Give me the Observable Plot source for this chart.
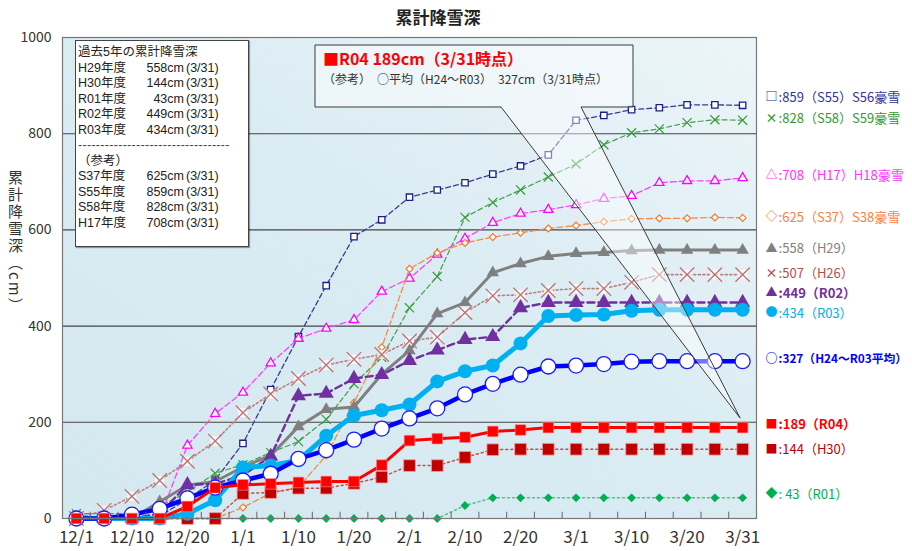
<!DOCTYPE html>
<html><head><meta charset="utf-8">
<script src="https://cdn.jsdelivr.net/npm/d3@7"></script>
<script src="https://cdn.jsdelivr.net/npm/@observablehq/plot@0.6"></script>
<style>
body{margin:0;background:#fff;font-family:"Noto Sans CJK JP","Noto Sans",sans-serif;}
#wrap{position:relative;width:912px;height:551px;overflow:hidden;}
#title{position:relative;height:30px;width:876px;text-align:center;font-weight:bold;font-size:17px;line-height:34px;color:#222;}
#ylab{position:absolute;left:5px;top:170px;writing-mode:vertical-rl;font-size:15px;letter-spacing:2px;color:#333;line-height:20px;}
#legend{position:absolute;left:75px;top:40px;width:174px;height:207px;background:#fff;border:1px solid #444;box-shadow:1px 1px 1px rgba(0,0,0,0.35);font-family:"Liberation Sans","Noto Sans CJK JP",sans-serif;font-size:12.5px;color:#222;padding:4px 0 0 2px;box-sizing:border-box;white-space:nowrap;}
#legend .row{height:15.5px;line-height:15.5px;overflow:visible;}
#legend .row span{display:inline-block;height:15.5px;line-height:15.5px;vertical-align:top;}
#legend .n{width:64px;}
#legend .v{width:42px;text-align:right;}
#legend .d{margin-left:2px;}
#legend .sep{color:#444;letter-spacing:0.3px;}
#callout{position:absolute;left:0;top:0;pointer-events:none;}
#ctext{position:absolute;left:323px;top:47px;white-space:nowrap;}
#ctext .l1{color:#ff0000;font-weight:bold;font-size:16px;line-height:22px;height:22px;}
#ctext .l2{color:#333;font-size:12px;line-height:18px;height:18px;margin-top:1px;}
</style>
</head><body>
<svg width="0" height="0" style="position:absolute"><defs>
<linearGradient id="plotbg" x1="0" y1="1" x2="1" y2="0">
<stop offset="0" stop-color="#d4e8f0"/><stop offset="0.55" stop-color="#dbecf3"/><stop offset="1" stop-color="#ecf5f9"/>
</linearGradient></defs></svg>
<div id="wrap">
<div id="title">累計降雪深</div>
</div>
<script>
// ---- data ----
const dates = ["12/1","12/5","12/10","12/15","12/20","12/25","1/1","1/5","1/10","1/15","1/20","1/25","2/1","2/5","2/10","2/15","2/20","2/25","3/1","3/5","3/10","3/15","3/20","3/25","3/31"];
const tickDates = ["12/1","12/10","12/20","1/1","1/10","1/20","2/1","2/10","2/20","3/1","3/10","3/20","3/31"];
const yTicks = [0,200,400,600,800,1000];
const S55 = [0,0,0,5,40,80,156,268,378,484,586,621,668,683,698,716,733,756,828,838,850,854,860,860,859];
const S58 = [10,10,10,25,55,94,112,137,160,206,280,335,438,503,626,657,683,710,737,777,802,810,823,829,828];
const H17 = [0,0,0,0,152,218,262,323,374,395,413,472,499,549,582,615,634,642,652,665,671,698,702,702,708];
const S37 = [0,0,0,0,0,0,23,53,65,131,241,356,519,552,573,585,594,603,609,617,623,624,624,626,625];
const H26 = [0,17,46,79,119,161,220,259,291,319,331,341,369,377,428,463,465,474,478,478,491,507,507,507,507];
const H29 = [0,0,0,35,69,77,107,131,191,227,232,300,349,426,449,511,530,545,551,553,557,558,558,558,558];
const R02 = [0,0,0,10,70,72,90,129,255,260,291,299,328,350,372,378,438,449,449,449,449,449,449,449,449];
const R01 = [0,0,0,0,0,0,0,0,0,0,0,0,0,0,27,43,43,43,43,43,43,43,43,43,43];
const H30 = [0,0,0,0,0,0,52,54,63,63,73,86,110,110,127,143,144,144,144,144,144,144,144,144,144];
const R03 = [0,0,0,0,10,38,106,110,121,172,214,225,237,285,306,318,364,421,423,424,432,434,434,434,434];
const AVG = [0,0,8,20,42,64,79,93,124,142,164,187,208,229,258,280,299,316,318,321,326,327,327,327,327];
const R04 = [0,0,0,0,25,64,70,72,75,77,77,111,162,166,169,181,184,189,189,189,189,189,189,189,189];

const labelSymbols = ["□","×","△","◇","▲","×","▲","●","○","■","■","◆"];
const labelTexts = [":859（S55）S56豪雪",":828（S58）S59豪雪",":708（H17）H18豪雪",":625（S37）S38豪雪",":558（H29）",":507（H26）",":449（R02）",":434（R03）",":327（H24～R03平均）",":189（R04）",":144（H30）",": 43（R01）"];
const labelAt = [875,830,713,626,561,509,468,426,331,195,143,50];

const legendTitle = "過去5年の累計降雪深";
const legendNames = ["H29年度","H30年度","R01年度","R02年度","R03年度"];
const legendValues = ["558cm","144cm","43cm","449cm","434cm"];
const refNames = ["S37年度","S55年度","S58年度","H17年度"];
const refValues = ["625cm","859cm","828cm","708cm"];
const asOf = "(3/31)";
const calloutLine1 = "■R04 189cm（3/31時点）";
const calloutLine2 = "（参考）\u3000○平均（H24～R03）\u3000327cm（3/31時点）";

// ---- styles ----
const series = [
  {v:S55, stroke:"#3a3a95", sw:1.3, dash:"5,3", symbol:"square", r:3.6, fill:"#fff", ms:"#1f1f88", msw:1.3},
  {v:S58, stroke:"#45a045", sw:1.2, dash:"5,3", symbol:"times", r:4.2, fill:"none", ms:"#3a9a3a", msw:1.2},
  {v:H17, stroke:"#ff40ff", sw:1.3, dash:"6,3", symbol:"triangle", r:3.4, fill:"#fff", ms:"#ff00ff", msw:1.3},
  {v:S37, stroke:"#f58b45", sw:1.3, dash:"6,3", symbol:"diamond2", r:3.1, fill:"#fff", ms:"#f27a30", msw:1.2},
  {v:H26, stroke:"#bb8080", sw:1.6, dash:"2,2.5", symbol:"times", r:6.6, fill:"none", ms:"#c07070", msw:1.3, bg:true},
  {v:H29, stroke:"#808080", sw:3, symbol:"triangle", r:4.6, fill:"#7f7f7f", ms:"none"},
  {v:R02, stroke:"#7030a0", sw:2.4, dash:"7,4", symbol:"triangle", r:5.6, fill:"#7030a0", ms:"none"},
  {v:R01, stroke:"#4cc488", sw:1.5, dash:"2,3", symbol:"diamond2", r:4, fill:"#00b050", ms:"none"},
  {v:H30, stroke:"#c84a4a", sw:1.5, dash:"2,3", symbol:"square", r:6.6, fill:"#c00000", ms:"#f0a0a0", msw:0.8},
  {v:R03, stroke:"#00b0f0", sw:5, symbol:"circle", r:7, fill:"#00b0f0", ms:"none"},
  {v:AVG, stroke:"#0000ff", sw:4.5, symbol:"circle", r:7.5, fill:"#fff", ms:"#1a1aff", msw:1.3},
  {v:R04, stroke:"#ff0000", sw:3, symbol:"square", r:6, fill:"#ff0000", ms:"#ff9090", msw:0.6}
];
const labelColors = ["#333399","#339933","#ff33ff","#ff8040","#808080","#b05050","#7030a0","#00b0f0","#0000ff","#ff0000","#c00000","#00b050"];
const labelBold = [false,false,false,false,false,false,true,false,true,true,false,false];

const W = 912, H = 521, ML = 62, MR = 156, MT = 7, MB = 33;
const step = (W - ML - MR) / dates.length;
const FONT = '"Noto Sans CJK JP","Noto Sans",sans-serif';
const lastDate = dates[dates.length-1];

const marks = [
  Plot.frame({fill:"url(#plotbg)", stroke:null}),
  Plot.ruleY([200,400,600,800], {stroke:"#444", strokeWidth:1.1})
];
for (const s of series) {
  const rows = dates.map((d,i) => ({date:d, value:s.v[i]}));
  marks.push(Plot.line(rows, {x:"date", y:"value", stroke:s.stroke, strokeWidth:s.sw, strokeDasharray:s.dash || null, curve:"linear"}));
  if (s.bg) marks.push(Plot.dot(rows, {x:"date", y:"value", symbol:"square", r:5.2, fill:"#fff", fillOpacity:0.75, stroke:"none"}));
  marks.push(Plot.dot(rows, {x:"date", y:"value", symbol:s.symbol, r:s.r, fill:s.fill, stroke:s.ms, strokeWidth:s.msw || 1}));
}
const labels = labelTexts.map((t,i) => ({sym:labelSymbols[i], text:t, y:labelAt[i], color:labelColors[i], bold:labelBold[i], small:t.length > 14}));
marks.push(
  Plot.ruleX(dates.slice(0,-1), {x:d=>d, y1:0, y2:13, dx:step/2, stroke:"#666", strokeWidth:1}),
  Plot.ruleY([0], {stroke:"#555", strokeWidth:1.2}),
  Plot.frame({stroke:"#777", strokeWidth:1.2}),
  Plot.axisX({ticks:tickDates, tickSize:0, tickPadding:12, fontSize:17, fill:"#333", label:null}),
  Plot.axisY({ticks:yTicks, tickSize:0, tickPadding:11, fontSize:14, fill:"#333", label:null, tickFormat:d=>String(d)}),
  Plot.text(labels, {x:()=>lastDate, y:"y", text:"sym", fill:"color", dx:23, textAnchor:"start", fontSize:12, fontWeight:"bold"}),
  Plot.text(labels.filter(d=>!d.bold), {x:()=>lastDate, y:"y", text:"text", fill:"color", dx:36, textAnchor:"start", fontSize:13}),
  Plot.text(labels.filter(d=>d.bold && !d.small), {x:()=>lastDate, y:"y", text:"text", fill:"color", dx:36, textAnchor:"start", fontSize:13, fontWeight:"bold"}),
  Plot.text(labels.filter(d=>d.bold && d.small), {x:()=>lastDate, y:"y", text:"text", fill:"color", dx:36, textAnchor:"start", fontSize:11.8, fontWeight:"bold"})
);

const chart = Plot.plot({
  width:W, height:H, marginTop:MT, marginBottom:MB, marginLeft:ML, marginRight:MR,
  style:{fontFamily:FONT, background:"transparent", overflow:"visible", display:"block"},
  x:{type:"point", domain:dates, padding:0.5, round:false, label:null},
  y:{domain:[0,1000], label:null},
  marks
});
const wrap = document.getElementById("wrap");
wrap.appendChild(chart);

// y label
const yl = document.createElement("div");
yl.id = "ylab"; yl.textContent = "累計降雪深（cm）";
wrap.appendChild(yl);

// legend box
const lg = document.createElement("div");
lg.id = "legend";
const row = (n,v) => `<div class="row"><span class="n">${n}</span><span class="v">${v}</span><span class="d">${asOf}</span></div>`;
let html = `<div class="row"><span>${legendTitle}</span></div>`;
legendNames.forEach((n,i)=>{ html += row(n, legendValues[i]); });
html += `<div class="row"><span class="sep">----------------------------------</span></div><div class="row"><span>（参考）</span></div>`;
refNames.forEach((n,i)=>{ html += row(n, refValues[i]); });
lg.innerHTML = html;
wrap.appendChild(lg);

// callout (tip position derived from the scales)
const xs = chart.scale("x"), ys = chart.scale("y");
const tipX = xs.apply(lastDate) - 2;
const tipY = ys.apply(R04[R04.length-1]) + 30 - 9;
const co = d3.select(wrap).append("svg").attr("id","callout").attr("width",W).attr("height",551);
const bx0 = 315, by0 = 45, bx1 = 633, by1 = 107, w0 = 501, w1 = 581;
co.append("path")
  .attr("d", `M${bx0},${by0}H${bx1}V${by1}H${w1}L${tipX},${tipY}L${w0},${by1}H${bx0}Z`)
  .attr("fill","rgba(255,255,255,0.45)").attr("stroke","#3a3a3a").attr("stroke-width",1);
const ct = document.createElement("div");
ct.id = "ctext";
ct.innerHTML = `<div class="l1">${calloutLine1}</div><div class="l2">${calloutLine2}</div>`;
wrap.appendChild(ct);
</script>
</body></html>
